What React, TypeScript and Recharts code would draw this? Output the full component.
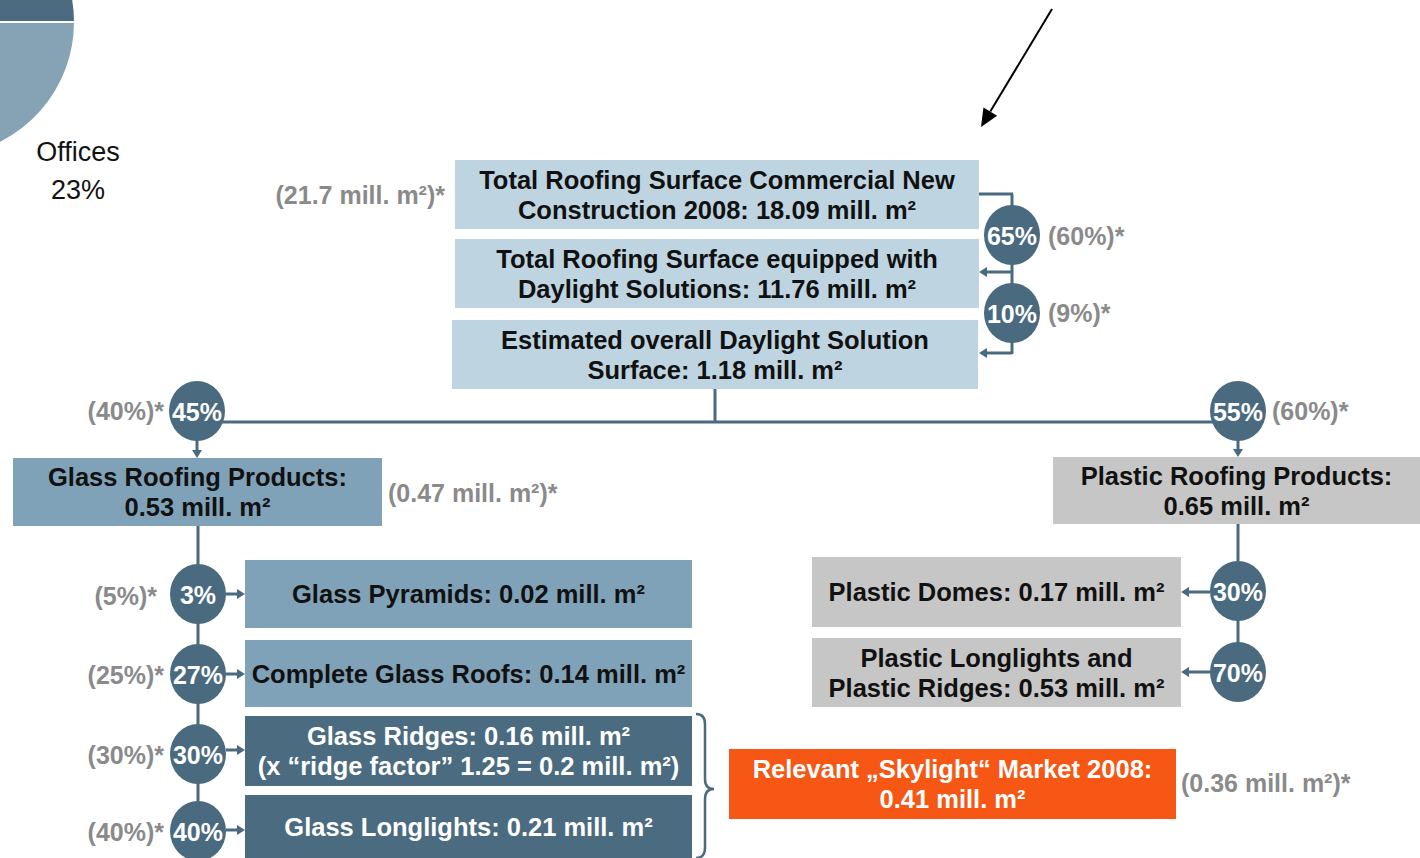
import React from 'react';
import {
  ComposedChart,
  XAxis,
  YAxis,
  ReferenceArea,
  ReferenceLine,
  Scatter,
  PieChart,
  Pie,
  Cell,
} from 'recharts';

const W = 1420;
const H = 858;
const FONT = '"Liberation Sans", Arial, Helvetica, sans-serif';

// pie fragment in the top-left corner
const pieNames = ['Other', 'Offices', 'Rest'];
const pieValues = [25, 23, 52];

// flow boxes: text lines, box type, and frame [x1, x2, y1, y2] in diagram units
const boxLines = [
  ['Total Roofing Surface Commercial New', 'Construction 2008: 18.09 mill. m²'],
  ['Total Roofing Surface equipped with', 'Daylight Solutions: 11.76 mill. m²'],
  ['Estimated overall Daylight Solution', 'Surface: 1.18 mill. m²'],
  ['Glass Roofing Products:', '0.53 mill. m²'],
  ['Plastic Roofing Products:', '0.65 mill. m²'],
  ['Glass Pyramids: 0.02 mill. m²'],
  ['Complete Glass Roofs: 0.14 mill. m²'],
  ['Glass Ridges: 0.16 mill. m²', '(x “ridge factor” 1.25 = 0.2 mill. m²)'],
  ['Glass Longlights: 0.21 mill. m²'],
  ['Plastic Domes: 0.17 mill. m²'],
  ['Plastic Longlights and', 'Plastic Ridges: 0.53 mill. m²'],
  ['Relevant „Skylight“ Market 2008:', '0.41 mill. m²'],
];
const boxKinds = ['total', 'total', 'total', 'glass', 'plastic', 'glass', 'glass', 'dark', 'dark', 'plastic', 'plastic', 'market'];
const boxFrames = [
  [455, 979, 160, 229],
  [455, 979, 239, 308],
  [452, 978, 320, 389],
  [13, 382, 458, 526],
  [1053, 1420, 457, 524],
  [245, 692, 560, 628],
  [245, 692, 640, 707],
  [245, 692, 716, 786],
  [245, 692, 795, 858],
  [812, 1181, 557, 627],
  [812, 1181, 638, 707],
  [729, 1176, 749, 819],
];

// percentage circles
const splitLabels = ['65%', '10%', '45%', '55%', '3%', '27%', '30%', '40%', '30%', '70%'];
const splitX = [1012, 1012, 197, 1238, 198, 198, 198, 198, 1238, 1238];
const splitY = [235, 313, 411, 411, 594, 674, 754, 831, 591, 672];

// grey side notes (previous year figures)
const noteTexts = [
  '(21.7 mill. m²)*', '(60%)*', '(9%)*', '(40%)*', '(60%)*', '(0.47 mill. m²)*',
  '(5%)*', '(25%)*', '(30%)*', '(40%)*', '(0.36 mill. m²)*',
];
const noteX = [445, 1048, 1048, 164, 1272, 388, 157, 164, 164, 164, 1181];
const noteY = [195, 236, 313, 411, 411, 493, 596, 675, 755, 832, 783];
const noteAlign = ['end', 'start', 'start', 'end', 'start', 'start', 'end', 'end', 'end', 'end', 'start'];

// pie label
const pieLabelTexts = ['Offices', '23%'];
const pieLabelX = [78, 78];
const pieLabelY = [152, 190];

// connectors [x1, y1, x2, y2, arrow]
const connectors = [
  [979, 194, 1013, 194, 0],
  [1012, 194, 1012, 354, 0],
  [1012, 272, 979, 272, 1],
  [1012, 353, 979, 353, 1],
  [715, 389, 715, 422, 0],
  [198, 422, 1238, 422, 0],
  [197, 440, 197, 458, 1],
  [1238, 440, 1238, 457, 1],
  [198, 526, 198, 858, 0],
  [226, 594, 245, 594, 1],
  [226, 674, 245, 674, 1],
  [226, 750, 245, 750, 1],
  [226, 830, 245, 830, 1],
  [1238, 524, 1238, 672, 0],
  [1210, 592, 1181, 592, 1],
  [1210, 672, 1181, 672, 1],
];
const pointer = [1052, 9, 981, 127];

const fills: Record<string, string> = {
  total: '#bed5e1',
  glass: '#7fa2b8',
  plastic: '#c6c6c6',
  dark: '#4b6b80',
  market: '#f65714',
};
const inks: Record<string, string> = {
  total: '#111',
  glass: '#111',
  plastic: '#111',
  dark: '#fff',
  market: '#fff',
};
const NAVY = '#4a6a7f';

const arrowLine = (color: string, width: number, head: number, half: number, arrow: boolean) => (p: any) => {
  const { x1, y1, x2, y2 } = p;
  const dx = x2 - x1;
  const dy = y2 - y1;
  const len = Math.sqrt(dx * dx + dy * dy) || 1;
  const ux = dx / len;
  const uy = dy / len;
  const ex = arrow ? x2 - ux * head : x2;
  const ey = arrow ? y2 - uy * head : y2;
  return (
    <g>
      <line x1={x1} y1={y1} x2={ex} y2={ey} stroke={color} strokeWidth={width} />
      {arrow && (
        <polygon
          points={`${x2},${y2} ${ex - uy * half},${ey + ux * half} ${ex + uy * half},${ey - ux * half}`}
          fill={color}
        />
      )}
    </g>
  );
};

const boxShape = (lines: string[], kind: string) => (p: any) => {
  const { x, y, width, height } = p;
  const cx = x + width / 2;
  const cy = y + height / 2;
  const gap = 30;
  const start = cy - ((lines.length - 1) * gap) / 2;
  return (
    <g>
      <rect x={x} y={y} width={width} height={height} fill={fills[kind]} />
      {lines.map((t, i) => (
        <text
          key={i}
          x={cx}
          y={start + i * gap}
          textAnchor="middle"
          dominantBaseline="central"
          fontFamily={FONT}
          fontWeight="bold"
          fontSize={25.5}
          fill={inks[kind]}
        >
          {t}
        </text>
      ))}
    </g>
  );
};

const braceShape = (p: any) => {
  const { x, y, width, height } = p;
  const mx = x + width * 0.5;
  const my = y + height * 0.52;
  const r = 10;
  const d = `M ${x} ${y} Q ${mx} ${y} ${mx} ${y + r} L ${mx} ${my - r} Q ${mx} ${my} ${x + width} ${my} Q ${mx} ${my} ${mx} ${my + r} L ${mx} ${y + height - r} Q ${mx} ${y + height} ${x} ${y + height}`;
  return <path d={d} fill="none" stroke={NAVY} strokeWidth={2.5} />;
};

const CircleDot = (p: any) => {
  const { cx, cy, payload } = p;
  return (
    <g>
      <ellipse cx={cx} cy={cy} rx={28} ry={30} fill={NAVY} />
      <text
        x={cx}
        y={cy + 1}
        textAnchor="middle"
        dominantBaseline="central"
        fontFamily={FONT}
        fontWeight="bold"
        fontSize={25}
        fill="#fff"
      >
        {payload.label}
      </text>
    </g>
  );
};

const NoteText = (p: any) => {
  const { cx, cy, payload } = p;
  return (
    <text
      x={cx}
      y={cy}
      textAnchor={payload.align}
      dominantBaseline="central"
      fontFamily={FONT}
      fontWeight={payload.bold ? 'bold' : 'normal'}
      fontSize={payload.size}
      fill={payload.color}
    >
      {payload.text}
    </text>
  );
};

export default function App() {
  const pieData = pieNames.map((name, i) => ({ name, value: pieValues[i] }));
  const pieColors = ['#4c6b80', '#86a3b6', '#a9bdca'];

  const circles = splitLabels.map((label, i) => ({ x: splitX[i], y: splitY[i], label }));
  const notes = [
    ...noteTexts.map((text, i) => ({
      x: noteX[i], y: noteY[i], text, align: noteAlign[i], bold: true, size: 25, color: '#8a8a8a',
    })),
    ...pieLabelTexts.map((text, i) => ({
      x: pieLabelX[i], y: pieLabelY[i], text, align: 'middle', bold: false, size: 27, color: '#111',
    })),
  ];

  return (
    <div style={{ position: 'absolute', left: 0, top: 0, width: W, height: H, background: '#fff', overflow: 'hidden' }}>
      <div style={{ position: 'absolute', left: 0, top: 0 }}>
        <PieChart width={220} height={220} margin={{ top: 0, right: 0, bottom: 0, left: 0 }}>
          <Pie
            data={pieData}
            dataKey="value"
            nameKey="name"
            cx={-60}
            cy={22}
            outerRadius={135}
            startAngle={90}
            endAngle={-270}
            stroke="#fff"
            strokeWidth={2}
            isAnimationActive={false}
          >
            {pieData.map((d, i) => (
              <Cell key={d.name} fill={pieColors[i]} />
            ))}
          </Pie>
        </PieChart>
      </div>
      <div style={{ position: 'absolute', left: 0, top: 0 }}>
        <ComposedChart width={W} height={H} margin={{ top: 0, right: 0, bottom: 0, left: 0 }}>
          <XAxis type="number" dataKey="x" domain={[0, W]} allowDataOverflow hide />
          <YAxis type="number" dataKey="y" domain={[0, H]} allowDataOverflow reversed hide />

          {boxFrames.map((f, i) => (
            <ReferenceArea
              key={'box' + i}
              x1={f[0]}
              x2={f[1]}
              y1={f[2]}
              y2={f[3]}
              ifOverflow="visible"
              shape={boxShape(boxLines[i], boxKinds[i])}
            />
          ))}

          <ReferenceArea x1={696} x2={714} y1={714} y2={858} ifOverflow="visible" shape={braceShape} />

          {connectors.map((c, i) => (
            <ReferenceLine
              key={'c' + i}
              segment={[{ x: c[0], y: c[1] }, { x: c[2], y: c[3] }]}
              ifOverflow="visible"
              shape={arrowLine(NAVY, 3, 8, 5, c[4] === 1)}
            />
          ))}
          <ReferenceLine
            segment={[{ x: pointer[0], y: pointer[1] }, { x: pointer[2], y: pointer[3] }]}
            ifOverflow="visible"
            shape={arrowLine('#000', 2, 18, 8, true)}
          />

          <Scatter data={circles} dataKey="y" shape={CircleDot} isAnimationActive={false} legendType="none" />
          <Scatter data={notes} dataKey="y" shape={NoteText} isAnimationActive={false} legendType="none" />
        </ComposedChart>
      </div>
    </div>
  );
}
